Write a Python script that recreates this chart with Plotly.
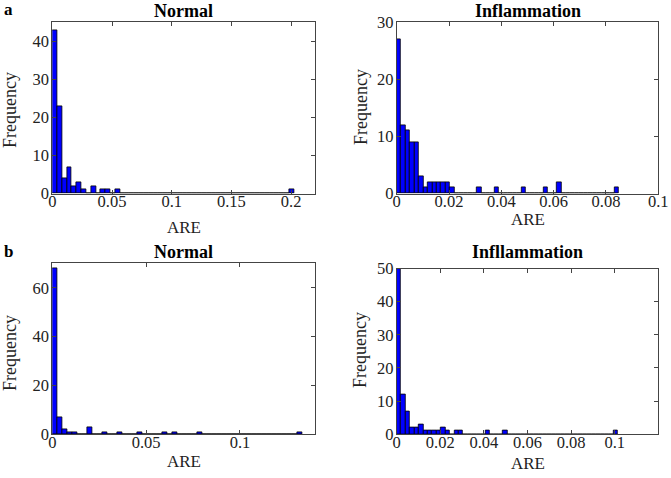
import numpy as np
import plotly.graph_objects as go

# ---------------- data (histogram counts, 50 bins each, starting at 0) ----------------
bin_width_a_normal = 0.00405
counts_a_normal = [43, 23, 4, 7, 2, 3, 1, 0, 2, 0, 1, 1, 0, 1] + [0] * 35 + [1]

bin_width_a_infl = 0.0017
counts_a_infl = [27, 12, 11, 9, 9, 3, 1, 2, 2, 2, 2, 2, 1, 0, 0, 0, 0, 0, 1, 0,
                 0, 0, 1, 0, 0, 0, 0, 0, 1, 0, 0, 0, 0, 1, 0, 0, 2, 0, 0, 0,
                 0, 0, 0, 0, 0, 0, 0, 0, 0, 1]

bin_width_b_normal = 0.00266
counts_b_normal = [68, 7, 2, 1, 1, 0, 0, 3, 0, 0, 1, 0, 0, 1, 0, 0, 0, 1, 0, 0,
                   0, 0, 1, 0, 1, 0, 0, 0, 0, 1, 0, 0, 0, 0, 0, 0, 0, 0, 0, 0,
                   0, 0, 0, 0, 0, 0, 0, 0, 0, 1]

bin_width_b_infl = 0.00203
counts_b_infl = [50, 12, 7, 2, 2, 3, 1, 1, 1, 1, 2, 1, 0, 1, 1, 0, 0, 0, 0, 0,
                 1, 0, 0, 0, 1, 0, 0, 0, 0, 0, 0, 0, 0, 0, 0, 0, 0, 0, 0, 0,
                 0, 0, 0, 0, 0, 0, 0, 0, 0, 1]

titles = ["Normal", "Inflammation", "Normal", "Infllammation"]
panel_letters = ["a", "b"]

x_ranges = [[0, 0.22], [0, 0.1], [0, 0.14], [0, 0.12]]
y_ranges = [[0, 45], [0, 30], [0, 70], [0, 50]]
x_tickvals = [[0, 0.05, 0.1, 0.15, 0.2], [0, 0.02, 0.04, 0.06, 0.08, 0.1],
              [0, 0.05, 0.1], [0, 0.02, 0.04, 0.06, 0.08, 0.1]]
x_ticktext = [["0", "0.05", "0.1", "0.15", "0.2"], ["0", "0.02", "0.04", "0.06", "0.08", "0.1"],
              ["0", "0.05", "0.1"], ["0", "0.02", "0.04", "0.06", "0.08", "0.1"]]
y_tickvals = [[0, 10, 20, 30, 40], [0, 10, 20, 30], [0, 20, 40, 60], [0, 10, 20, 30, 40, 50]]

# ---------------- layout geometry (pixels) ----------------
W, H = 671, 478
# (left, right, top, bottom) of each plot box in pixels
boxes = [(52.3, 315.0, 22.3, 193.5), (396.7, 658.3, 22.3, 193.5),
         (52.3, 315.0, 263.3, 434.3), (396.7, 658.3, 268.5, 434.3)]

def px(x):
    return x / W

def py(y):
    return 1 - y / H

FONT = "Liberation Serif, Times New Roman, serif"
fig = go.Figure()

series = [(bin_width_a_normal, counts_a_normal), (bin_width_a_infl, counts_a_infl),
          (bin_width_b_normal, counts_b_normal), (bin_width_b_infl, counts_b_infl)]

for k, (w, counts) in enumerate(series):
    idx = np.arange(len(counts))
    centers = (idx + 0.5) * w
    suffix = "" if k == 0 else str(k + 1)
    fig.add_trace(go.Bar(
        x=centers, y=counts, width=w,
        marker=dict(color="#0000FF", line=dict(color="#000000", width=0.8)),
        xaxis="x" + suffix, yaxis="y" + suffix, showlegend=False,
    ))
    l, r, t, b = boxes[k]
    axis_common = dict(showline=True, linecolor="#444444", linewidth=1, mirror="ticks",
                       ticks="inside", ticklen=4, tickcolor="#444444", showgrid=False,
                       zeroline=False, automargin=False,
                       tickfont=dict(family=FONT, size=16.5, color="#222222"))
    fig.update_layout(**{
        "xaxis" + suffix: dict(domain=[px(l), px(r)], range=x_ranges[k], tickvals=x_tickvals[k],
                               ticktext=x_ticktext[k], anchor="y" + suffix,
                               ticklabelstandoff=-7, **axis_common),
        "yaxis" + suffix: dict(domain=[py(b), py(t)], range=y_ranges[k], tickvals=y_tickvals[k],
                               anchor="x" + suffix, ticklabelstandoff=-1, **axis_common),
    })

annotations = []
title_pos = [(183.7, 11), (527.5, 11), (183.7, 251.7), (527.5, 251.7)]
are_pos = [(183.7, 227.7), (527.5, 219), (183.7, 461.7), (527.5, 463)]
freq_pos = [(10, 110), (361, 107), (10, 353), (360, 350)]
for k in range(4):
    annotations.append(dict(text="<b>%s</b>" % titles[k], x=px(title_pos[k][0]), y=py(title_pos[k][1]),
                            xref="paper", yref="paper", showarrow=False, xanchor="center", yanchor="middle",
                            font=dict(family=FONT, size=18, color="#000000")))
    annotations.append(dict(text="ARE", x=px(are_pos[k][0]), y=py(are_pos[k][1]),
                            xref="paper", yref="paper", showarrow=False, xanchor="center", yanchor="middle",
                            font=dict(family=FONT, size=17, color="#222222")))
    annotations.append(dict(text="Frequency", x=px(freq_pos[k][0]), y=py(freq_pos[k][1]), textangle=-90,
                            xref="paper", yref="paper", showarrow=False, xanchor="center", yanchor="middle",
                            font=dict(family=FONT, size=18, color="#222222")))
for letter, (x, y) in zip(panel_letters, [(8, 9), (8, 251.7)]):
    annotations.append(dict(text="<b>%s</b>" % letter, x=px(x), y=py(y), xref="paper", yref="paper",
                            showarrow=False, xanchor="center", yanchor="middle",
                            font=dict(family=FONT, size=17, color="#000000")))

fig.update_layout(
    template="none",
    width=W, height=H, margin=dict(l=0, r=0, t=0, b=0, pad=0, autoexpand=False),
    paper_bgcolor="white", plot_bgcolor="white", bargap=0,
    annotations=annotations,
)

fig.write_html("out.html", config={"displayModeBar": False},
               post_script="document.body.style.margin='0';")
